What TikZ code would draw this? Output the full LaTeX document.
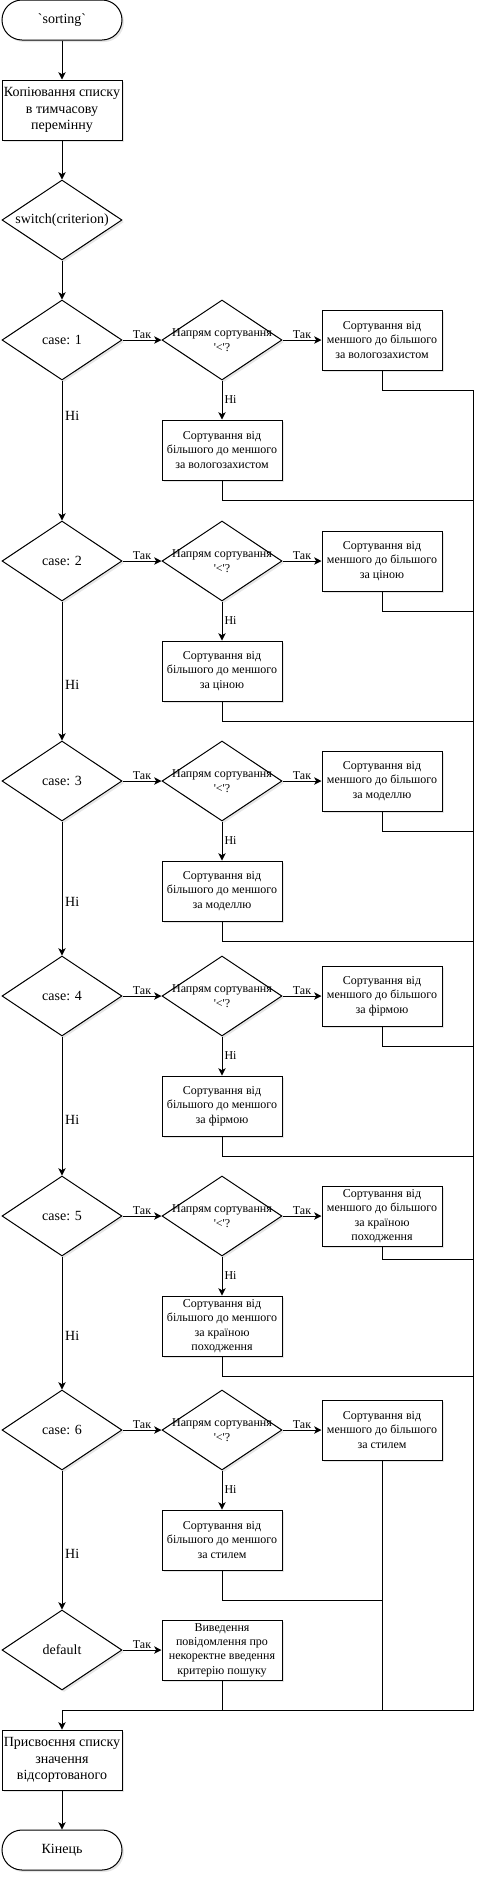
\documentclass[tikz,border=0pt]{standalone}
\usepackage{fontspec}
\setmainfont{Liberation Serif}
\usetikzlibrary{arrows.meta, positioning, shapes.geometric, shadows}

\begin{document}
\begin{tikzpicture}[x=0.75pt, y=-0.75pt, line width=0.75pt,
  >={Stealth[length=5.5pt, width=5.5pt, inset=1.5pt]},
  node distance=82.5pt and 120pt, on grid,
  shade/.style={drop shadow={shadow xshift=1.5pt, shadow yshift=-1.5pt, opacity=0.2}},
  bigfont/.style={font=\fontsize{10.5}{12.6}\selectfont},
  smallfont/.style={font=\fontsize{9}{10.8}\selectfont},
  term/.style={draw, fill=white, shade, rounded corners=15pt, minimum width=90pt, minimum height=30pt, bigfont},
  mainbox/.style={draw, fill=white, shade, minimum width=90pt, minimum height=45pt, inner sep=1pt, align=center, bigfont},
  maincond/.style={diamond, draw, fill=white, shade, aspect=1.5, minimum width=90pt, minimum height=60pt, inner sep=0pt, bigfont},
  sidebox/.style={draw, fill=white, shade, minimum width=90pt, minimum height=45pt, inner sep=1pt, align=center, smallfont},
  sidecond/.style={diamond, draw, fill=white, shade, aspect=1.5, minimum width=90pt, minimum height=60pt, inner sep=0pt, inner xsep=-8pt, align=center, smallfont},
  yes/.style={above, inner sep=1pt, smallfont},
  no/.style={right, inner sep=1.5pt, smallfont},
  nomain/.style={right, inner sep=2pt, bigfont}
]
\useasboundingbox (0,0) rectangle (494,1882);

% головний стовпець
\node[term] (start) at (62,20) {\textasciigrave sorting\textasciigrave};
\node[mainbox] (copy) at (62,110) {Копіювання списку\\в тимчасову\\перемінну};
\node[maincond] (switch) at (62,220) {switch(criterion)};
\node[maincond] (case1) at (62,340) {case: 1};
\node[maincond] (case2) at (62,561) {case: 2};
\node[maincond] (case3) at (62,781) {case: 3};
\node[maincond] (case4) at (62,996) {case: 4};
\node[maincond] (case5) at (62,1216) {case: 5};
\node[maincond] (case6) at (62,1430) {case: 6};
\node[maincond] (dflt) at (62,1650) {default};
\node[mainbox] (assign) at (62,1760) {Присвоєння списку\\значення\\відсортованого};
\node[term] (stop) at (62,1850) {Кінець};

% гілки сортування
\node[sidecond] (dir1) [right=of case1] {Напрям сортування\\\textquotesingle<\textquotesingle?};
\node[sidebox] (asc1) [right=of dir1] {Сортування від\\меншого до більшого\\за вологозахистом};
\node[sidebox] (desc1) [below=of dir1] {Сортування від\\більшого до меншого\\за вологозахистом};

\node[sidecond] (dir2) [right=of case2] {Напрям сортування\\\textquotesingle<\textquotesingle?};
\node[sidebox] (asc2) [right=of dir2] {Сортування від\\меншого до більшого\\за ціною};
\node[sidebox] (desc2) [below=of dir2] {Сортування від\\більшого до меншого\\за ціною};

\node[sidecond] (dir3) [right=of case3] {Напрям сортування\\\textquotesingle<\textquotesingle?};
\node[sidebox] (asc3) [right=of dir3] {Сортування від\\меншого до більшого\\за моделлю};
\node[sidebox] (desc3) [below=of dir3] {Сортування від\\більшого до меншого\\за моделлю};

\node[sidecond] (dir4) [right=of case4] {Напрям сортування\\\textquotesingle<\textquotesingle?};
\node[sidebox] (asc4) [right=of dir4] {Сортування від\\меншого до більшого\\за фірмою};
\node[sidebox] (desc4) [below=of dir4] {Сортування від\\більшого до меншого\\за фірмою};

\node[sidecond] (dir5) [right=of case5] {Напрям сортування\\\textquotesingle<\textquotesingle?};
\node[sidebox] (asc5) [right=of dir5] {Сортування від\\меншого до більшого\\за країною\\походження};
\node[sidebox] (desc5) [below=of dir5] {Сортування від\\більшого до меншого\\за країною\\походження};

\node[sidecond] (dir6) [right=of case6] {Напрям сортування\\\textquotesingle<\textquotesingle?};
\node[sidebox] (asc6) [right=of dir6] {Сортування від\\меншого до більшого\\за стилем};
\node[sidebox] (desc6) [below=of dir6] {Сортування від\\більшого до меншого\\за стилем};

\node[sidebox] (msg) [right=of dflt] {Виведення\\повідомлення про\\некоректне введення\\критерію пошуку};

% стрілки
\draw[->] (start) -- (copy);
\draw[->] (copy) -- (switch);
\draw[->] (switch) -- (case1);

\draw[->] (case1) -- node[yes] {Так} (dir1);
\draw[->] (dir1) -- node[yes] {Так} (asc1);
\draw[->] (dir1) -- node[no] {Ні} (desc1);
\draw[->] (case1) -- node[nomain, pos=.25] {Ні} (case2);

\draw[->] (case2) -- node[yes] {Так} (dir2);
\draw[->] (dir2) -- node[yes] {Так} (asc2);
\draw[->] (dir2) -- node[no] {Ні} (desc2);
\draw[->] (case2) -- node[nomain, pos=.6] {Ні} (case3);

\draw[->] (case3) -- node[yes] {Так} (dir3);
\draw[->] (dir3) -- node[yes] {Так} (asc3);
\draw[->] (dir3) -- node[no] {Ні} (desc3);
\draw[->] (case3) -- node[nomain, pos=.6] {Ні} (case4);

\draw[->] (case4) -- node[yes] {Так} (dir4);
\draw[->] (dir4) -- node[yes] {Так} (asc4);
\draw[->] (dir4) -- node[no] {Ні} (desc4);
\draw[->] (case4) -- node[nomain, pos=.6] {Ні} (case5);

\draw[->] (case5) -- node[yes] {Так} (dir5);
\draw[->] (dir5) -- node[yes] {Так} (asc5);
\draw[->] (dir5) -- node[no] {Ні} (desc5);
\draw[->] (case5) -- node[nomain, pos=.6] {Ні} (case6);

\draw[->] (case6) -- node[yes] {Так} (dir6);
\draw[->] (dir6) -- node[yes] {Так} (asc6);
\draw[->] (dir6) -- node[no] {Ні} (desc6);
\draw[->] (case6) -- node[nomain, pos=.6] {Ні} (dflt);

\draw[->] (dflt) -- node[yes] {Так} (msg);

% повернення
\coordinate (railtop) at (473,390);
\coordinate (railbot) at (473,1710);
\draw (asc1.south) |- ++(91,20);
\draw (desc1.south) |- ++(251,20);
\draw (asc2.south) |- ++(91,20);
\draw (desc2.south) |- ++(251,20);
\draw (asc3.south) |- ++(91,20);
\draw (desc3.south) |- ++(251,20);
\draw (asc4.south) |- ++(91,20);
\draw (desc4.south) |- ++(251,20);
\draw (asc5.south) |- ++(91,13);
\draw (desc5.south) |- ++(251,20);
\draw (desc6.south) |- ++(160,30);
\draw (asc6) -- (asc6 |- railbot);
\draw (msg) -- (msg |- railbot);
\draw[->] (railtop) -- (railbot) -| (assign);
\draw[->] (assign) -- (stop);

\end{tikzpicture}
\end{document}
